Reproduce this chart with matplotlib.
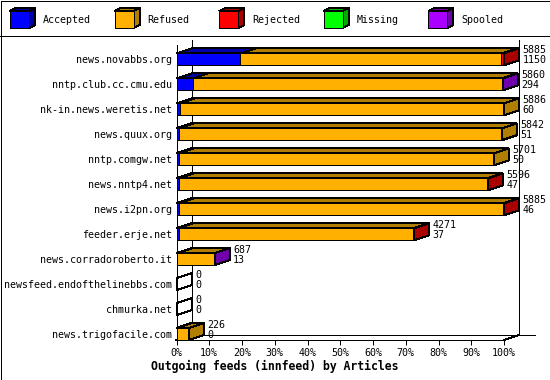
import matplotlib
matplotlib.use("Agg")
import matplotlib.pyplot as plt
from matplotlib.patches import Polygon, Rectangle
from matplotlib.lines import Line2D
from matplotlib.transforms import offset_copy, IdentityTransform

# ---------------- data ----------------
hosts = ["news.novabbs.org", "nntp.club.cc.cmu.edu", "nk-in.news.weretis.net",
         "news.quux.org", "nntp.comgw.net", "news.nntp4.net", "news.i2pn.org",
         "feeder.erje.net", "news.corradoroberto.it", "newsfeed.endofthelinebbs.com",
         "chmurka.net", "news.trigofacile.com"]
accepted = [1150, 294, 60, 51, 50, 47, 46, 37, 13, 0, 0, 0]
refused = [4690, 5556, 5826, 5791, 5651, 5544, 5834, 4229, 669, 0, 0, 226]
rejected = [45, 0, 0, 0, 0, 5, 5, 5, 0, 0, 0, 0]
missing = [0, 0, 0, 0, 0, 0, 0, 0, 0, 0, 0, 0]
spooled = [0, 10, 0, 0, 0, 0, 0, 0, 5, 0, 0, 0]
offered = [5885, 5860, 5886, 5842, 5701, 5596, 5885, 4271, 687, 0, 0, 226]
series_names = ["Accepted", "Refused", "Rejected", "Missing", "Spooled"]
pct_ticks = [0, 10, 20, 30, 40, 50, 60, 70, 80, 90, 100]
title = "Outgoing feeds (innfeed) by Articles"

# ---------------- style ----------------
colors = ["#0000FF", "#FFB000", "#FF0000", "#00FF00", "#AA00FF"]
darks = ["#0000AA", "#B07E00", "#AA0000", "#00AA00", "#7000AA"]
MONO = "DejaVu Sans Mono"
FS = 7.2
LW = 0.72
W, H = 550, 380
DX, DY = 15, 5  # 3D depth in pixels
AA = False

fig = plt.figure(figsize=(W / 100, H / 100), dpi=100)
fig.patch.set_facecolor("white")

ax = fig.add_axes([176.5 / W, (H - 340) / H, (504 - 176.5) / W, (340 - 45) / H])
ax.set_xlim(0, 100)
ax.set_ylim(11.24, -0.58)
ax.set_facecolor("none")
for s in ["top", "right"]:
    ax.spines[s].set_visible(False)
for s in ["left", "bottom"]:
    ax.spines[s].set_linewidth(LW)
    ax.spines[s].set_zorder(5)
    ax.spines[s].set_antialiased(AA)

ax.set_xticks(pct_ticks)
ax.set_xticklabels([f"{t}%" for t in pct_ticks], fontfamily=MONO, fontsize=FS)
ax.tick_params(axis="x", length=3.6, width=LW, pad=2.2)
ax.set_yticks(range(len(hosts)))
ax.set_yticklabels(hosts, fontfamily=MONO, fontsize=FS)
ax.tick_params(axis="y", length=0, pad=3.2)

maxv = max(offered)
rows = range(len(hosts))
BH = 0.48

def disp(x, y, ox=0.0, oy=0.0):
    px, py = ax.transData.transform((x, y))
    return (px + ox, py + oy)

def poly(pts, fc):
    p = Polygon(pts, closed=True, facecolor=fc, edgecolor="black", linewidth=LW,
                transform=IdentityTransform(), clip_on=False, zorder=3, antialiased=AA)
    ax.add_patch(p)

# back wall / floor lines
back = offset_copy(ax.transData, fig=fig, x=DX, y=DY, units="dots")
ylo, yhi = ax.get_ylim()
for xs, ys in (([0, 0], [ylo, yhi]), ([100, 100], [ylo, yhi]), ([0, 104.9], [ylo, ylo])):
    ax.plot(xs, ys, color="black", lw=LW, transform=back, clip_on=False, zorder=1,
            antialiased=AA)
for xe in (0, 100):
    p0 = disp(xe, ylo)
    ax.add_line(Line2D([p0[0], p0[0] + DX], [p0[1], p0[1] + DY], color="black", lw=LW,
                       transform=IdentityTransform(), clip_on=False, zorder=1,
                       antialiased=AA))

series = [accepted, refused, rejected, missing, spooled]
for i in rows:
    left = 0.0
    last = None
    for k, vals in enumerate(series):
        v = vals[i]
        if v <= 0:
            continue
        w = v / maxv * 100
        ax.barh(i, w, left=left, height=BH, color=colors[k], edgecolor="black",
                linewidth=LW, zorder=3, antialiased=AA)
        top = i - BH / 2
        poly([disp(left, top), disp(left + w, top), disp(left + w, top, DX, DY),
              disp(left, top, DX, DY)], darks[k])
        left += w
        last = k
    top, bot = i - BH / 2, i + BH / 2
    poly([disp(left, top), disp(left, top, DX, DY), disp(left, bot, DX, DY),
          disp(left, bot)], darks[last] if last is not None else "none")
    ax.annotate(str(offered[i]), xy=(left, i), xytext=(18.5, 9.5), textcoords="offset pixels",
                ha="left", va="center", fontfamily=MONO, fontsize=FS, zorder=6,
                annotation_clip=False)
    ax.annotate(str(accepted[i]), xy=(left, i), xytext=(18.5, -1), textcoords="offset pixels",
                ha="left", va="center", fontfamily=MONO, fontsize=FS, zorder=6,
                annotation_clip=False)

# ---------------- legend (top band) ----------------
fig_px = IdentityTransform()
for k, name in enumerate(series_names):
    x0 = 10 + k * 104.6
    yb = H - 28
    yt = H - 11
    x1 = x0 + 19
    fig.add_artist(Polygon([(x0, yt), (x1, yt), (x1 + 6, yt + 3), (x0 + 6, yt + 3)],
                           closed=True, facecolor=darks[k], edgecolor="black", lw=LW,
                           transform=fig_px, antialiased=AA))
    fig.add_artist(Polygon([(x1, yb), (x1 + 6, yb + 3), (x1 + 6, yt + 3), (x1, yt)],
                           closed=True, facecolor=darks[k], edgecolor="black", lw=LW,
                           transform=fig_px, antialiased=AA))
    fig.add_artist(Rectangle((x0, yb), 19, 17, facecolor=colors[k], edgecolor="black",
                             lw=LW, transform=fig_px, antialiased=AA))
    fig.text((x0 + 32.7) / W, (H - 20) / H, name, fontfamily=MONO, fontsize=FS,
             ha="left", va="center")

fig.add_artist(Line2D([0, W], [H - 35.5, H - 35.5], color="black", lw=LW, transform=fig_px,
                      antialiased=AA))
fig.add_artist(Rectangle((0.5, 0.5), W - 1, H - 1, fill=False, edgecolor="black", lw=LW,
                         transform=fig_px, antialiased=AA))

fig.text(0.5, (H - 366.7) / H, title, fontfamily=MONO, fontweight="bold", fontsize=8.3,
         ha="center", va="center")

fig.savefig("out.png", dpi=100)
